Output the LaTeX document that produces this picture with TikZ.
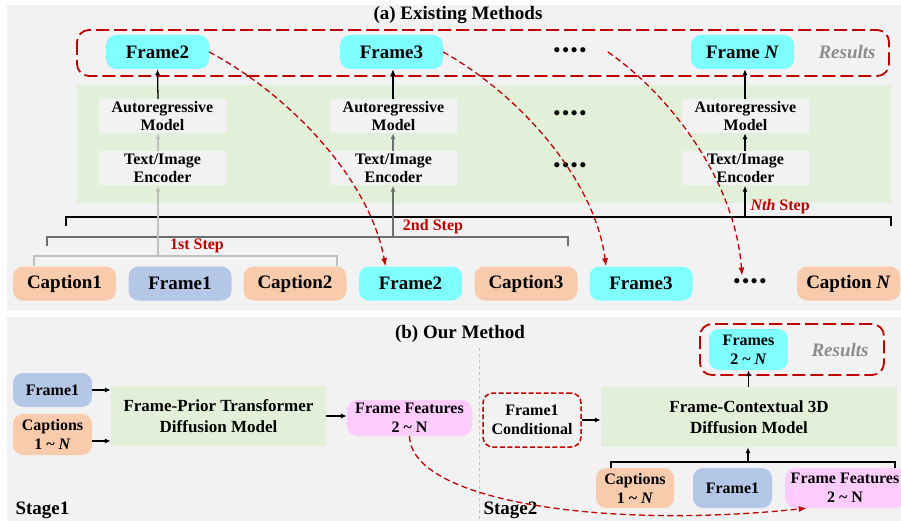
\documentclass[tikz,border=0pt]{standalone}
\usepackage{fontspec}
\setmainfont{Liberation Serif}
\usetikzlibrary{arrows.meta}
\definecolor{bggray}{HTML}{F2F2F2}
\definecolor{panelgreen}{HTML}{E2F0D9}
\definecolor{framecyan}{HTML}{80FFFF}
\definecolor{cappeach}{HTML}{F8CBAD}
\definecolor{firstblue}{HTML}{B4C7E7}
\definecolor{featpink}{HTML}{FFCCFF}
\definecolor{darkred}{HTML}{C00000}
\definecolor{resgray}{HTML}{8C8C8C}
\definecolor{lightarr}{HTML}{BFBFBF}
\definecolor{midarr}{HTML}{6E6E6E}
\tikzset{
    pill/.style={rounded corners=10pt, inner sep=0pt, align=center,
        minimum width=103pt, minimum height=34pt,
        font=\fontsize{19}{21}\selectfont\bfseries},
    smallpill/.style={pill, minimum width=79pt,
        font=\fontsize{16}{19}\selectfont\bfseries},
    graybox/.style={fill=bggray, inner sep=0pt, align=center,
        minimum width=127pt, minimum height=34pt,
        font=\fontsize{16}{18}\selectfont\bfseries},
    greenbox/.style={fill=panelgreen, inner sep=0pt, align=center,
        minimum height=60pt, font=\fontsize{17}{21}\selectfont\bfseries},
    arr/.style={line width=1.3pt, -{Latex[length=6pt,width=5pt]}},
    redcurve/.style={darkred, line width=1.3pt, dash pattern=on 6pt off 3.5pt,
        -{Latex[length=8pt,width=6pt]}},
    resbox/.style={darkred, line width=1.8pt, dash pattern=on 13pt off 5pt,
        rounded corners=12pt},
    reslabel/.style={text=resgray, font=\fontsize{19}{21}\selectfont\bfseries\itshape},
    steplabel/.style={text=darkred, font=\fontsize{16}{18}\selectfont\bfseries},
    dotlabel/.style={font=\fontsize{19}{21}\selectfont\bfseries},
    bracket/.style={line width=1.3pt},
}
\newcommand{\fourdots}{\textbullet\kern2pt\textbullet\kern2pt\textbullet\kern2pt\textbullet}

\begin{document}
\begin{tikzpicture}[x=1pt, y=-1pt, font=\bfseries]
    \useasboundingbox (0,0) rectangle (901,521);
    % --- (a) Existing Methods ---
    \fill[bggray] (7,5) rectangle (901,310);
    \node[font=\fontsize{19}{21}\selectfont\bfseries] (titleA) at (458,15) {(a) Existing Methods};
    \draw[resbox] (77,30) rectangle (889,76);
    \fill[panelgreen] (77,85) rectangle (891,203);

    \node[pill, fill=framecyan] (r2) at (157.5,52) {Frame2};
    \node[pill, fill=framecyan] (r3) at (391.5,52) {Frame3};
    \node[dotlabel] (dotsA) at (570,52) {\fourdots};
    \node[pill, fill=framecyan] (rN) at (742.5,52) {Frame \textit{N}};
    \node[reslabel] (resA) at (847,52) {Results};

    \node[graybox] (ar1) at (162.5,116) {Autoregressive\\Model};
    \node[graybox] (ar2) at (393.5,116) {Autoregressive\\Model};
    \node[dotlabel] (dotsB) at (570,115) {\fourdots};
    \node[graybox] (ar3) at (745.5,116) {Autoregressive\\Model};
    \node[graybox] (enc1) at (162.5,168.5) {Text/Image\\Encoder};
    \node[graybox] (enc2) at (393.5,168.5) {Text/Image\\Encoder};
    \node[dotlabel] (dotsC) at (570,167) {\fourdots};
    \node[graybox] (enc3) at (745.5,168.5) {Text/Image\\Encoder};

    % inputs
    \node[pill, fill=cappeach] (cap1) at (64.5,283.5) {Caption1};
    \node[pill, fill=firstblue] (f1) at (180,283.5) {Frame1};
    \node[pill, fill=cappeach] (cap2) at (295,283.5) {Caption2};
    \node[pill, fill=framecyan] (f2) at (410.5,283.5) {Frame2};
    \node[pill, fill=cappeach] (cap3) at (526,283.5) {Caption3};
    \node[pill, fill=framecyan] (f3) at (641,283.5) {Frame3};
    \node[dotlabel] (dotsD) at (750,283.5) {\fourdots};
    \node[pill, fill=cappeach] (capN) at (848.5,283.5) {Caption \textit{N}};

    % steps
    \coordinate (s1) at (158,256);
    \coordinate (s2) at (393,237);
    \coordinate (sN) at (745,217);
    \draw[bracket, lightarr] (34,266) -- (34,256) -- (337,256) -- (337,266);
    \draw[bracket, midarr] (47,246) -- (47,237) -- (568,237) -- (568,246);
    \draw[bracket] (66,226) -- (66,217) -- (891,217) -- (891,226);
    \node[steplabel] (l1) at (197,246) {1st Step};
    \node[steplabel] (l2) at (433,227) {2nd Step};
    \node[steplabel, anchor=west] (lN) at (747,207) {\textit{Nth} Step};

    \draw[arr, lightarr] (s1) -- (s1 |- enc1.south);
    \draw[arr, lightarr] (s1 |- enc1.north) -- (s1 |- ar1.south);
    \draw[arr] (s1 |- ar1.north) -- (r2.south);
    \draw[arr, midarr] (s2) -- (s2 |- enc2.south);
    \draw[arr, midarr] (s2 |- enc2.north) -- (s2 |- ar2.south);
    \draw[arr] (s2 |- ar2.north) -- (s2 |- r3.south);
    \draw[arr] (sN) -- (sN |- enc3.south);
    \draw[arr] (sN |- enc3.north) -- (sN |- ar3.south);
    \draw[arr] (sN |- ar3.north) -- (sN |- rN.south);

    % outputs fed back
    \draw[redcurve] (r2.east) .. controls (290,95) and (370,180) .. ([xshift=-25pt]f2.north);
    \draw[redcurve] (r3.east) .. controls (520,95) and (595,180) .. ([xshift=-35pt]f3.north);
    \draw[redcurve] ([xshift=18pt]dotsA.east) .. controls (670,95) and (735,180) .. ([xshift=-8pt]dotsD.north);

    % --- (b) Our Method ---
    \fill[bggray] (7,317) rectangle (901,521);
    \node[font=\fontsize{19}{21}\selectfont\bfseries] (titleB) at (460,334) {(b) Our Method};
    \draw[lightarr, line width=0.8pt, dashed] (479,348) -- (479,521);
    \node[font=\fontsize{19}{21}\selectfont\bfseries, anchor=west] (st1) at (12,510) {Stage1};
    \node[font=\fontsize{19}{21}\selectfont\bfseries, anchor=west] (st2) at (480,510) {Stage2};

    % stage 1
    \node[smallpill, fill=firstblue] (bf1) at (52.5,390) {Frame1};
    \node[smallpill, fill=cappeach, minimum height=41pt] (bcap) at (52.5,434.5) {Captions\\1 \textasciitilde{} \textit{N}};
    \node[greenbox, minimum width=215pt] (fpt) at (218.5,416) {Frame-Prior Transformer\\Diffusion Model};
    \node[smallpill, fill=featpink, minimum width=125pt, minimum height=36pt] (feat1) at (409.5,418) {Frame Features\\2 \textasciitilde{} N};
    \draw[arr] (bf1.east) -- (bf1.east -| fpt.west);
    \draw[arr] ([yshift=-6.5pt]bcap.east) -- ([yshift=-6.5pt]bcap.east -| fpt.west);
    \draw[arr] (fpt.east) -- (fpt.east -| feat1.west);

    % stage 2
    \node[smallpill, minimum width=98pt, minimum height=54pt, draw=darkred,
        line width=1.5pt, dash pattern=on 5pt off 2.5pt] (cond) at (532,420) {Frame1\\Conditional};
    \node[greenbox, minimum width=296pt] (fc3d) at (749,417) {Frame-Contextual 3D\\Diffusion Model};
    \draw[resbox] (700,324) rectangle (884,375);
    \node[smallpill, fill=framecyan, minimum height=41pt] (bframes) at (748.5,349.5) {Frames\\2 \textasciitilde{} \textit{N}};
    \node[reslabel] (resB) at (840,350) {Results};
    \node[smallpill, fill=cappeach, minimum width=78pt, minimum height=40pt] (bcap2) at (635,488) {Captions\\1 \textasciitilde{} \textit{N}};
    \node[smallpill, fill=firstblue, minimum height=40pt] (bf2) at (732.5,488) {Frame1};
    \node[smallpill, fill=featpink, minimum width=120pt, minimum height=40pt] (feat2) at (845,488) {Frame Features\\2 \textasciitilde{} N};

    \coordinate (join) at (748,462);
    \draw[bracket] (611,468) -- (611,462) -- (895,462) -- (895,468);
    \draw[arr] (join) -- (join |- fc3d.south);
    \draw[arr] (cond.east) -- (cond.east -| fc3d.west);
    \draw[arr] (fc3d.north -| bframes) -- (bframes.south);

    \draw[redcurve] (feat1.south) .. controls (411,500) and (600,530) .. ([xshift=22pt]feat2.south west);
\end{tikzpicture}
\end{document}
